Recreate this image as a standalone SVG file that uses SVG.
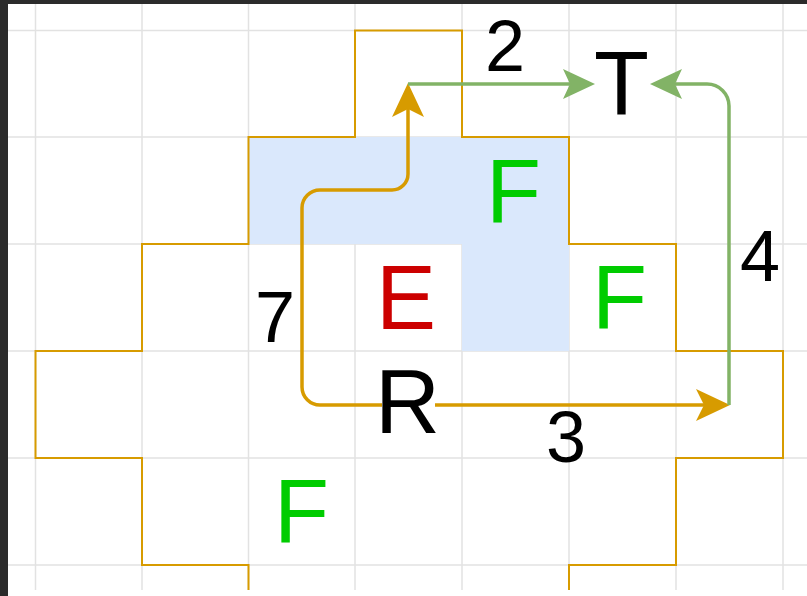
<svg xmlns="http://www.w3.org/2000/svg" width="807" height="596" viewBox="0 0 807 596">
<style>
.grid line{stroke:#e2e2e2;stroke-width:1.5}
.outline{fill:none;stroke:#d79b00;stroke-width:2}
.blue{fill:#dae8fc}
.org{fill:none;stroke:#d79b00;stroke-width:3.5}
.grn{fill:none;stroke:#82b366;stroke-width:3.5}
.lbl{font-family:"Liberation Sans",Arial,sans-serif;font-size:90px}
.num{font-family:"Liberation Sans",Arial,sans-serif;font-size:72px;text-anchor:middle}
.F{fill:#00cc00}
.E{fill:#cc0000}
.k{fill:#000000}
</style>
<defs>
<marker id="aO" markerUnits="userSpaceOnUse" viewBox="-34 -17 35 34" markerWidth="35" markerHeight="34" refX="-8" refY="0" orient="auto">
<path d="M0,0 L-34,-16 L-26,0 L-34,16 Z" fill="#d79b00"/>
</marker>
<marker id="aG" markerUnits="userSpaceOnUse" viewBox="-34 -17 35 34" markerWidth="35" markerHeight="34" refX="-8" refY="0" orient="auto">
<path d="M0,0 L-32,-15 L-25,0 L-32,15 Z" fill="#82b366"/>
</marker>
</defs>
<rect x="0" y="0" width="807" height="596" fill="#ffffff"/>
<rect x="0" y="0" width="807" height="4" fill="#2b2b2b"/>
<rect x="0" y="0" width="8" height="596" fill="#2b2b2b"/>
<g class="grid">
<line x1="35.5" y1="4" x2="35.5" y2="590"/>
<line x1="142" y1="4" x2="142" y2="590"/>
<line x1="248.5" y1="4" x2="248.5" y2="590"/>
<line x1="355" y1="4" x2="355" y2="590"/>
<line x1="462" y1="4" x2="462" y2="590"/>
<line x1="569" y1="4" x2="569" y2="590"/>
<line x1="676" y1="4" x2="676" y2="590"/>
<line x1="783" y1="4" x2="783" y2="590"/>
<line x1="8" y1="30.5" x2="807" y2="30.5"/>
<line x1="8" y1="137" x2="807" y2="137"/>
<line x1="8" y1="244" x2="807" y2="244"/>
<line x1="8" y1="351" x2="807" y2="351"/>
<line x1="8" y1="458" x2="807" y2="458"/>
<line x1="8" y1="565" x2="807" y2="565"/>
</g>
<g id="region">
<path class="blue" d="M248.5,137 H569 V351 H462 V244 H248.5 Z"/>
<path class="outline" d="M248.5,590 V565 H142 V458 H35.5 V351 H142 V244 H248.5 V137 H355 V30.5 H462 V137 H569 V244 H676 V351 H783 V458 H676 V565 H569 V590"/>
</g>
<g id="connectors">
<path id="e7" class="org" d="M382,405 H320 A18,18 0 0 1 302,387 V208 A18,18 0 0 1 320,190 H392 A16,16 0 0 0 408,174 V91" marker-end="url(#aO)"/>
<path id="e3" class="org" d="M435,405 H722" marker-end="url(#aO)"/>
<path id="e2" class="grn" d="M408,84 H587" marker-end="url(#aG)"/>
<path id="e4" class="grn" d="M729,405 V106 A22,22 0 0 0 707,84 H658" marker-end="url(#aG)"/>
</g>
<g id="labels">
<text class="num k" x="505" y="71">2</text>
<text class="num k" x="275" y="342">7</text>
<text class="num k" x="760" y="281">4</text>
<text class="num k" x="566" y="462">3</text>
</g>
<g id="T"><text class="lbl k" x="594" y="115">T</text></g>
<g id="E"><text class="lbl E" x="376" y="329">E</text></g>
<g id="R"><text class="lbl k" x="375" y="433">R</text></g>
<g id="F1"><text class="lbl F" x="486" y="222">F</text></g>
<g id="F2"><text class="lbl F" x="592" y="328">F</text></g>
<g id="F3"><text class="lbl F" x="274" y="542">F</text></g>
</svg>
